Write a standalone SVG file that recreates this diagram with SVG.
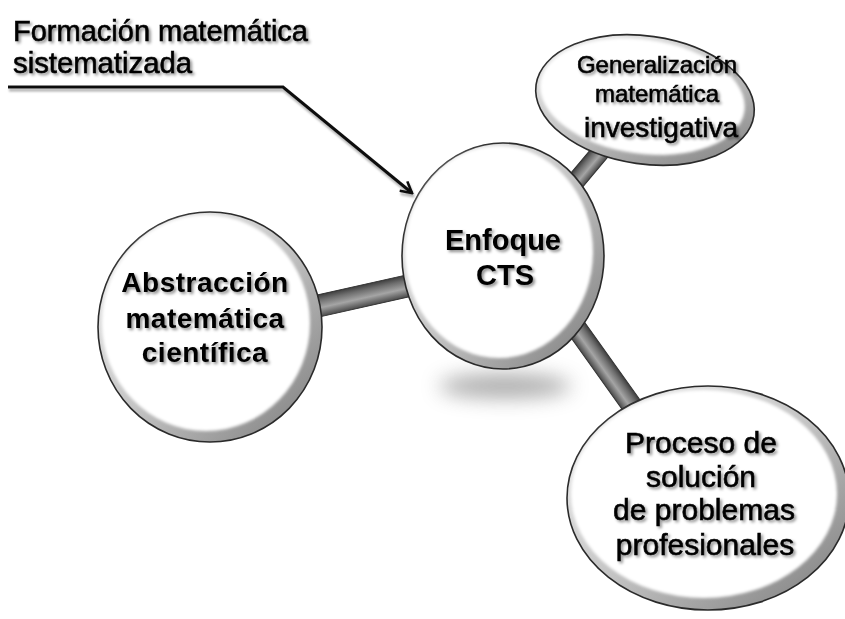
<svg xmlns="http://www.w3.org/2000/svg" width="845" height="619" viewBox="0 0 845 619">
<defs>
<style>
.t{font-family:"Liberation Sans",Arial,sans-serif;fill:#000;filter:url(#ts)}
.r{stroke:#000;stroke-width:0.6}
.b{font-weight:bold}
.ring{stroke:#2a2a2a;stroke-width:1.6;fill:url(#rg)}
.inner{fill:#fff}
.bar{fill:url(#bg);stroke:#333;stroke-width:1}
</style>
<filter id="ts" x="-10%" y="-30%" width="120%" height="160%">
<feDropShadow dx="2" dy="2" stdDeviation="1.4" flood-color="#000" flood-opacity="0.45"/>
</filter>
<filter id="ls" x="-5%" y="-20%" width="110%" height="140%">
<feDropShadow dx="1" dy="3" stdDeviation="1.2" flood-color="#000" flood-opacity="0.3"/>
</filter>
<filter id="blur" x="-50%" y="-150%" width="200%" height="400%">
<feGaussianBlur stdDeviation="10"/>
</filter>
<filter id="soft" x="-10%" y="-10%" width="120%" height="120%">
<feGaussianBlur stdDeviation="1.5"/>
</filter>
<linearGradient id="rg" x1="0" y1="0" x2="1" y2="1">
<stop offset="0" stop-color="#f4f4f4"/>
<stop offset="0.5" stop-color="#c4c4c4"/>
<stop offset="1" stop-color="#7a7a7a"/>
</linearGradient>
<linearGradient id="bg" x1="0" y1="0" x2="0" y2="1">
<stop offset="0" stop-color="#3d3d3d"/>
<stop offset="0.25" stop-color="#6e6e6e"/>
<stop offset="0.6" stop-color="#a5a5a5"/>
<stop offset="1" stop-color="#4a4a4a"/>
</linearGradient>
<marker id="arr" viewBox="0 0 14 14" refX="12" refY="7" markerWidth="14" markerHeight="14" markerUnits="userSpaceOnUse" orient="auto">
<path d="M1,1 L12,7 L1,13" fill="none" stroke="#111" stroke-width="2.6" stroke-linejoin="miter"/>
</marker>
</defs>
<rect width="845" height="619" fill="#fff"/>

<g id="connectors">
<g transform="translate(300,310) rotate(-12.6)"><rect class="bar" x="0" y="-11" width="125" height="22"/></g>
<g transform="translate(560,305) rotate(54.5)"><rect class="bar" x="0" y="-10" width="175" height="20"/></g>
<g transform="translate(560,200) rotate(-50)"><rect class="bar" x="0" y="-9" width="80" height="18"/></g>
<path d="M8,87 L283,87 L412,193" fill="none" stroke="#111" stroke-width="3" marker-end="url(#arr)" filter="url(#ls)"/>
</g>

<ellipse cx="505" cy="386" rx="66" ry="12" fill="#888" opacity="0.7" filter="url(#blur)"/>

<g id="node-formacion">
<text class="t r" x="13" y="41" font-size="29" textLength="295" lengthAdjust="spacingAndGlyphs">Formación matemática</text>
<text class="t r" x="13" y="73" font-size="29" textLength="179" lengthAdjust="spacingAndGlyphs">sistematizada</text>
</g>

<g id="node-abstraccion">
<ellipse class="ring" cx="210" cy="327" rx="112" ry="115"/>
<ellipse class="inner" cx="206" cy="323" rx="104" ry="108" filter="url(#soft)"/>
<text class="t b" x="205" y="292" font-size="28" letter-spacing="0.5" text-anchor="middle">Abstracción</text>
<text class="t b" x="205" y="328" font-size="28" letter-spacing="0.5" text-anchor="middle">matemática</text>
<text class="t b" x="205" y="362" font-size="28" letter-spacing="0.5" text-anchor="middle">científica</text>
</g>

<g id="node-enfoque">
<ellipse class="ring" cx="503" cy="256" rx="101" ry="113"/>
<ellipse class="inner" cx="499" cy="252" rx="94" ry="106" filter="url(#soft)"/>
<text class="t b" x="503" y="250" font-size="29" text-anchor="middle">Enfoque</text>
<text class="t b" x="505" y="285" font-size="29" text-anchor="middle">CTS</text>
</g>

<g id="node-generalizacion">
<g transform="rotate(8,645,100)">
<ellipse class="ring" cx="645" cy="100" rx="110" ry="64"/>
<ellipse class="inner" cx="642" cy="97" rx="103" ry="57" filter="url(#soft)"/>
</g>
<text class="t r" x="657" y="73" font-size="24" text-anchor="middle">Generalización</text>
<text class="t r" x="657" y="102" font-size="24" text-anchor="middle">matemática</text>
<text class="t r" x="661" y="137" font-size="28" text-anchor="middle">investigativa</text>
</g>

<g id="node-proceso">
<ellipse class="ring" cx="708" cy="498" rx="141" ry="112"/>
<ellipse class="inner" cx="704" cy="494" rx="133" ry="104" filter="url(#soft)"/>
<text class="t r" x="701" y="453" font-size="30" text-anchor="middle">Proceso de</text>
<text class="t r" x="701" y="487" font-size="30" text-anchor="middle">solución</text>
<text class="t r" x="704" y="520" font-size="30" text-anchor="middle">de problemas</text>
<text class="t r" x="705" y="555" font-size="30" text-anchor="middle">profesionales</text>
</g>
</svg>
